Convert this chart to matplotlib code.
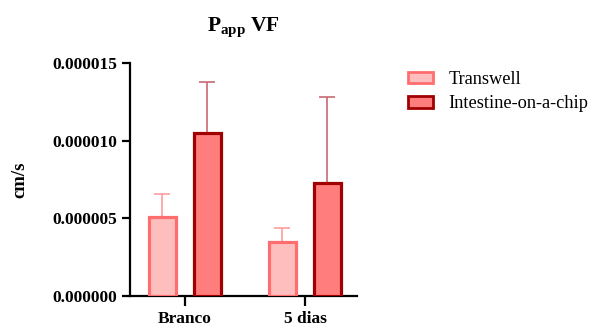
import matplotlib
matplotlib.use("Agg")
import matplotlib.pyplot as plt
import numpy as np
from matplotlib.patches import Patch
from matplotlib.ticker import FormatStrFormatter

categories = ["Branco", "5 dias"]
series = ["Transwell", "Intestine-on-a-chip"]
transwell_mean = [5.1e-6, 3.45e-6]
transwell_err = [1.45e-6, 0.95e-6]
chip_mean = [10.5e-6, 7.3e-6]
chip_err = [3.3e-6, 5.5e-6]
yticks = [0, 5e-6, 10e-6, 15e-6]

plt.rcParams['font.family'] = ['Liberation Serif', 'DejaVu Serif']
plt.rcParams['mathtext.fontset'] = 'custom'
plt.rcParams['mathtext.rm'] = 'Liberation Serif'
plt.rcParams['mathtext.bf'] = 'Liberation Serif:bold'

fig = plt.figure(figsize=(5.9, 3.27), dpi=100)
ax = fig.add_axes([0.2203, 0.0948, 0.3847, 0.7125])

x = np.arange(len(categories))
off = 0.1875
w = 0.23

tw_fill, tw_edge, tw_err = '#FFBEBE', '#FF6E6E', '#FF9C9C'
ch_fill, ch_edge, ch_err = '#FF7D7D', '#A00000', '#C86A72'

ax.bar(x - off, transwell_mean, w, color=tw_fill, edgecolor=tw_edge, linewidth=2.3, zorder=3)
ax.bar(x + off, chip_mean, w, color=ch_fill, edgecolor=ch_edge, linewidth=2.3, zorder=3)
ax.errorbar(x - off, transwell_mean, yerr=[np.zeros(2), transwell_err], fmt='none',
            ecolor=tw_err, elinewidth=1.2, capsize=5.5, capthick=1.2, zorder=2)
ax.errorbar(x + off, chip_mean, yerr=[np.zeros(2), chip_err], fmt='none',
            ecolor=ch_err, elinewidth=1.2, capsize=5.5, capthick=1.2, zorder=2)

ax.set_xlim(-0.458, 1.433)
ax.set_ylim(0, 15e-6)
ax.set_yticks(yticks)
ax.yaxis.set_major_formatter(FormatStrFormatter('%.6f'))
ax.set_xticks(x)
ax.set_xticklabels(categories)
for sp in ['top', 'right']:
    ax.spines[sp].set_visible(False)
for sp in ['left', 'bottom']:
    ax.spines[sp].set_linewidth(1.6)
ax.tick_params(axis='both', direction='out', width=1.6, length=6, labelsize=12.5)
ax.tick_params(axis='x', length=7, pad=4)
for lab in ax.get_xticklabels() + ax.get_yticklabels():
    lab.set_fontweight('bold')

ax.set_title(r'$\mathbf{P_{app}}$ $\mathbf{VF}$', fontsize=15.5, fontweight='bold', pad=23)
ax.set_ylabel('cm/s', fontsize=13.5, fontweight='bold', labelpad=17)

handles = [Patch(facecolor=tw_fill, edgecolor=tw_edge, linewidth=2),
           Patch(facecolor=ch_fill, edgecolor=ch_edge, linewidth=2)]
fig.legend(handles, series, loc='upper left', bbox_to_anchor=(0.6915, 0.783),
           frameon=False, fontsize=13.2, handlelength=1.35, handleheight=0.6,
           handletextpad=0.85, labelspacing=0.4, borderpad=0, borderaxespad=0)

fig.savefig('out.png', dpi=100)
